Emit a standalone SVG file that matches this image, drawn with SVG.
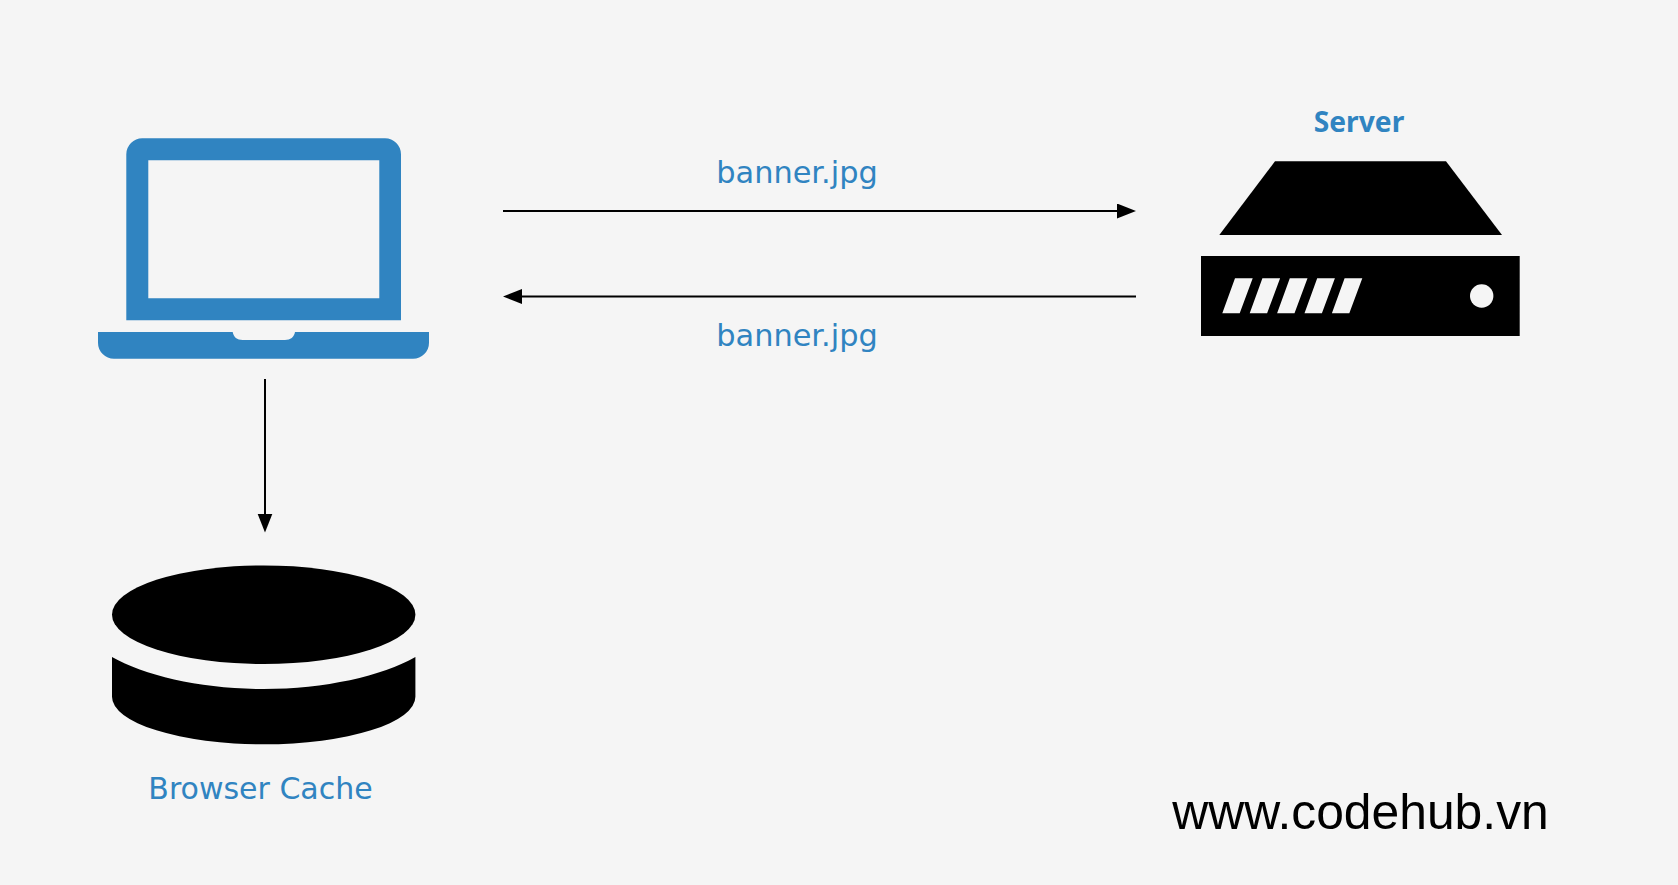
<svg xmlns="http://www.w3.org/2000/svg" width="1678" height="885" viewBox="0 0 1678 885">
<style>
.blue{fill:#3084c1}
.lbl{font-family:"DejaVu Sans",Verdana,sans-serif;font-size:30.4px;fill:#3084c1}
.conn{stroke:#000;stroke-width:2;fill:none}
</style>
<defs>
<marker id="head" markerUnits="userSpaceOnUse" markerWidth="20" markerHeight="16" refX="9" refY="7.5" orient="auto"><path d="M0 0L19 7.5L0 15Z" fill="#000"/></marker>
</defs>
<rect width="1678" height="885" fill="#f5f5f5"/>
<g id="connectors">
<line class="conn" x1="503" y1="211" x2="1126" y2="211" marker-end="url(#head)"/>
<line class="conn" x1="1136" y1="296.5" x2="513" y2="296.5" marker-end="url(#head)"/>
<line class="conn" x1="265" y1="379" x2="265" y2="522.500" marker-end="url(#head)"/>
</g>
<g id="laptop">
<path class="blue" fill-rule="evenodd" d="M142.300 138.300H385A16 16 0 0 1 401 154.300V320.300H126.300V154.300A16 16 0 0 1 142.300 138.300ZM148.300 160.300V298.300H379.300V160.300Z"/>
<path class="blue" d="M98 332H232.700C233.500 337 237 340 242.700 340H285C290.500 340 294.200 337 295 332H429V342.700A16 16 0 0 1 413 358.700H114A16 16 0 0 1 98 342.700Z"/>
</g>
<g id="server">
<path d="M1275 161.300H1446L1502 235H1219.300Z" fill="#000"/>
<path fill-rule="evenodd" fill="#000" d="M1201 256H1519.700V336H1201ZM1235 278.300L1222.300 313.300H1239.700L1252.700 278.300ZM1262.400 278.300L1249.700 313.300H1267.100L1280.100 278.300ZM1289.800 278.300L1277.100 313.300H1294.500L1307.500 278.300ZM1317.200 278.300L1304.500 313.300H1321.900L1334.900 278.300ZM1344.600 278.300L1331.900 313.300H1349.300L1362.300 278.300Z"/>
<circle cx="1481.700" cy="296" r="11.700" fill="#f5f5f5"/>
<text x="1359" y="132" text-anchor="middle" font-family="'Noto Sans',sans-serif" font-weight="700" font-size="28.200" class="blue">Server</text>
</g>
<g id="cache">
<ellipse cx="263.700" cy="614.700" rx="151.700" ry="49.300" fill="#000"/>
<path d="M112 657C145 676 203 689 263.700 689C324.400 689 382.400 676 415.400 657V696.700A151.700 47.600 0 0 1 263.700 744.300A151.700 47.600 0 0 1 112 696.700Z" fill="#000"/>
<text class="lbl" x="260.500" y="799" text-anchor="middle" style="font-size:30px">Browser Cache</text>
</g>
<g id="labels">
<text class="lbl" x="797" y="183" text-anchor="middle">banner.jpg</text>
<text class="lbl" x="797" y="345.500" text-anchor="middle">banner.jpg</text>
<text x="1360.500" y="829" text-anchor="middle" font-family="'Liberation Sans',Arial,sans-serif" font-size="49.800px" fill="#000">www.codehub.vn</text>
</g>
</svg>
